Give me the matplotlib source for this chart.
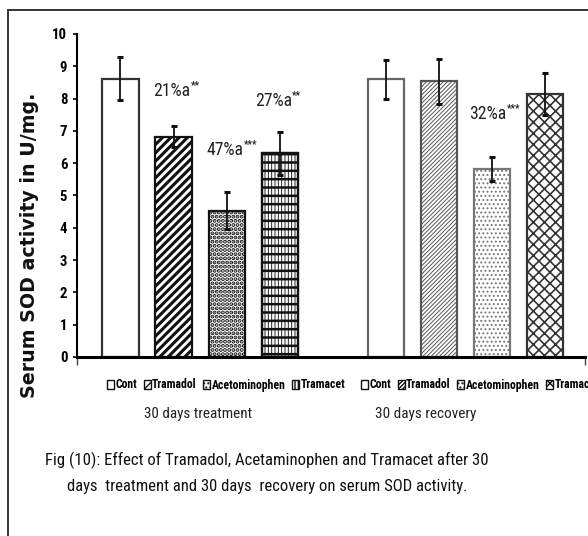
import matplotlib
matplotlib.use("Agg")
import math
import matplotlib.pyplot as plt
from matplotlib import font_manager
from matplotlib.font_manager import FontProperties
from matplotlib.textpath import TextToPath
from matplotlib.patches import Rectangle, Patch

# ---------------- data ----------------
groups = ["30 days treatment", "30 days recovery"]
series = ["Cont", "Tramadol", "Acetominophen", "Tramacet"]
treatment_vals = [8.62, 6.82, 4.53, 6.31]
treatment_err = [0.67, 0.32, 0.58, 0.67]
recovery_vals = [8.60, 8.54, 5.82, 8.15]
recovery_err = [0.60, 0.70, 0.38, 0.65]
treatment_notes = ["", "21%a", "47%a", "27%a"]
treatment_stars = ["", "**", "***", "**"]
recovery_notes = ["", "", "32%a", ""]
recovery_stars = ["", "", "***", ""]
yticks = [0, 1, 2, 3, 4, 5, 6, 7, 8, 9, 10]
ylabel = "Serum SOD activity in U/mg."
caption_lines = ["Fig (10): Effect of Tramadol, Acetaminophen and Tramacet after 30",
                 "days  treatment and 30 days  recovery on serum SOD activity."]

# ---------------- fonts: narrow sans close to Arial Narrow ----------------
ttp = TextToPath()
SAMPLE = caption_lines[0]
BASES = ["Liberation Sans", "Arial", "Roboto", "Open Sans", "Noto Sans", "DejaVu Sans",
         "Lato", "Inter"]
SUFFIXES = ["", " Narrow", " Condensed", " SemiCondensed", " Semi Condensed",
            " ExtraCondensed", " Extra Condensed", " Cond"]
ALLOWED = {b + s for b in BASES for s in SUFFIXES}

def _w(f):
    w = f.weight
    if isinstance(w, str):
        w = font_manager.weight_dict.get(w, 400)
    return int(w)

def metrics(fn):
    prop = FontProperties(fname=fn, size=100)
    w, _, _ = ttp.get_text_width_height_descent(SAMPLE, prop, ismath=False)
    _, hc, dc = ttp.get_text_width_height_descent("H", prop, ismath=False)
    return w / (hc - dc), (hc - dc) / 100.0

cands = []
for f in font_manager.fontManager.ttflist:
    if f.style != "normal" or f.name not in ALLOWED:
        continue
    try:
        ratio, capr = metrics(f.fname)
    except Exception:
        continue
    cands.append(dict(name=f.name, stretch=str(f.stretch), weight=_w(f), fname=f.fname,
                      ratio=ratio, cap=capr))

TARGET_RATIO = 31.0

def bold_sibling(c):
    sib = [d for d in cands if d["name"] == c["name"] and d["stretch"] == c["stretch"]
           and d["weight"] >= 600]
    return min(sib, key=lambda d: abs(d["weight"] - 700)) if sib else None

regs = [c for c in cands if 350 <= c["weight"] <= 450 and bold_sibling(c)]
best_r = min(regs, key=lambda c: abs(c["ratio"] - TARGET_RATIO)) if regs else None
best_b = bold_sibling(best_r) if best_r else None

def fp(bold, cap_px):
    c = best_b if bold else best_r
    if c is None:
        return FontProperties(family="Liberation Sans", weight="bold" if bold else "normal",
                              size=cap_px / 0.716 * 0.72)
    return FontProperties(fname=c["fname"], size=cap_px / c["cap"] * 0.72)

W, H = 588, 536
fig = plt.figure(figsize=(W / 100, H / 100), dpi=100)

def fx(px):
    return px / W

def fy(py):
    return 1 - py / H

ax = fig.add_axes([fx(77), fy(357), fx(585) - fx(77), fy(34) - fy(357)])

# outer frame (cut off at right and bottom)
fig.patches.append(Rectangle((fx(8), -0.2), 1.2, fy(9.5) + 0.2, transform=fig.transFigure,
                             fill=False, edgecolor="#333333", linewidth=1.4))

width = 0.68
tre_x = [0, 1, 2, 3]
rec_x = [5, 6, 7, 8]

tre_style = [
    dict(hatch=None, lw_h=1.0, ec="#333333"),
    dict(hatch="////", lw_h=2.2, ec="#111111"),
    dict(hatch="....", lw_h=2.0, ec="#111111"),
    dict(hatch="|||||", lw_h=0.7, ec="#222222"),
]
rec_style = [
    dict(hatch=None, lw_h=1.0, ec="#666666"),
    dict(hatch="////////", lw_h=0.7, ec="#555555"),
    dict(hatch="....", lw_h=0.9, ec="#777777"),
    dict(hatch="xxx", lw_h=1.2, ec="#333333"),
]

def draw_bar(x, v, st, lw_edge=1.6):
    with plt.rc_context({"hatch.linewidth": st["lw_h"]}):
        b = ax.bar(x, v, width=width, facecolor="white", edgecolor=st["ec"],
                   linewidth=lw_edge, hatch=st["hatch"], zorder=2)
    return b

for x, v, st in zip(tre_x, treatment_vals, tre_style):
    draw_bar(x, v, st)
# horizontal lines overlay for the Tramacet grid
with plt.rc_context({"hatch.linewidth": 1.8}):
    ax.bar(tre_x[3], treatment_vals[3], width=width, facecolor="none",
           edgecolor="#111111", linewidth=1.6, hatch="--", zorder=2.1)
for x, v, st in zip(rec_x, recovery_vals, rec_style):
    draw_bar(x, v, st)

ax.errorbar(tre_x, treatment_vals, yerr=treatment_err, fmt="none", ecolor="#111111",
            elinewidth=1.3, capsize=2.3, capthick=2.2, zorder=3)
ax.errorbar(rec_x, recovery_vals, yerr=recovery_err, fmt="none", ecolor="#111111",
            elinewidth=1.3, capsize=2.3, capthick=2.2, zorder=3)

# annotations (center of "xx%a", bottom)
note_pos_t = [None, (0.97, 7.96), (1.97, 6.13), (2.88, 7.65)]
note_pos_r = [None, None, (6.92, 7.24), None]
for notes, stars, pos in ((treatment_notes, treatment_stars, note_pos_t),
                          (recovery_notes, recovery_stars, note_pos_r)):
    for n, s, p in zip(notes, stars, pos):
        if n:
            t = ax.annotate(n, xy=p, ha="center", va="bottom", color="#222222",
                            fontproperties=fp(False, 12.5))
            ax.annotate(s, xy=(1.0, 0.55), xycoords=t, xytext=(0.3, 0),
                        textcoords="offset points", ha="left", va="bottom",
                        color="#222222", fontproperties=fp(True, 7))

ax.set_xlim(-0.82, 8.76)
ax.set_ylim(0, 10)
ax.set_yticks(yticks)
ax.set_yticklabels([str(t) for t in yticks])
for lab in ax.get_yticklabels():
    lab.set_fontproperties(fp(True, 10.5))
ax.set_xticks([-0.82, 8.76])
ax.set_xticklabels(["", ""])
ax.tick_params(axis="y", direction="out", length=3, width=1.2, pad=4)
ax.tick_params(axis="x", direction="out", length=6, width=1.0, colors="#444444")
for s in ("top", "right"):
    ax.spines[s].set_visible(False)
ax.spines["left"].set_linewidth(1.5)
ax.spines["bottom"].set_linewidth(2.2)

# legends under each group
def make_handles(styles):
    return [Patch(facecolor="white", edgecolor="#111111", linewidth=1.0, hatch=st["hatch"])
            for st in styles]

leg_kw = dict(ncol=4, frameon=False, handlelength=0.6, handleheight=0.8,
              handletextpad=0.12, columnspacing=0.55, borderpad=0, borderaxespad=0,
              prop=fp(True, 8.4))
y_leg = (357 - 385) / 323
l1 = ax.legend(make_handles(tre_style), series, loc="center left",
               bbox_to_anchor=((107 - 77) / 508, y_leg), **leg_kw)
ax.add_artist(l1)
l2 = ax.legend(make_handles(rec_style), series, loc="center left",
               bbox_to_anchor=((361 - 77) / 508, y_leg), **leg_kw)

texts = []
texts.append((fig.text(fx(198), fy(414), groups[0], ha="center", va="center",
                       color="#222222", fontproperties=fp(False, 12)), 97))
texts.append((fig.text(fx(426), fy(414), groups[1], ha="center", va="center",
                       color="#222222", fontproperties=fp(False, 12)), 92))
texts.append((fig.text(fx(267), fy(460), caption_lines[0], ha="center", va="center",
                       color="#111111", fontproperties=fp(False, 13.5)), 391))
texts.append((fig.text(fx(267), fy(487), caption_lines[1], ha="center", va="center",
                       color="#111111", fontproperties=fp(False, 13.5)), 353))
yl = fig.text(fx(30), fy(245), ylabel, ha="center", va="center", rotation=90,
              fontsize=14, fontweight="bold", family=["DejaVu Sans"], color="#111111")

# compromise between width-fit and cap-height fit
fig.canvas.draw()
r = fig.canvas.get_renderer()
for t, target in texts:
    w = t.get_window_extent(r).width
    s0 = t.get_fontsize()
    t.set_fontsize(math.sqrt(s0 * s0 * target / w))
h = yl.get_window_extent(r).height
yl.set_fontsize(yl.get_fontsize() * 305 / h)

fig.savefig("out.png", dpi=100)
